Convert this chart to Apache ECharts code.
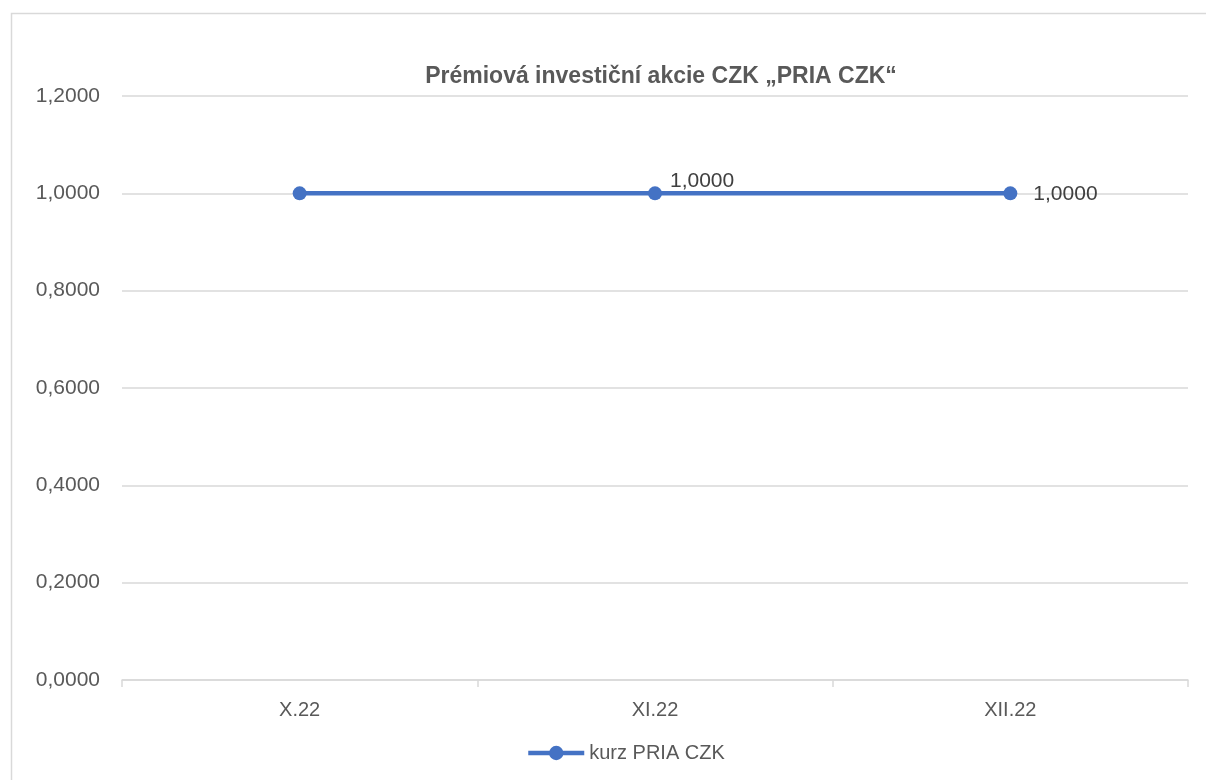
<!DOCTYPE html>
<html>
<head>
<meta charset="utf-8">
<script src="https://cdn.jsdelivr.net/npm/echarts@6/dist/echarts.min.js"></script>
<style>
html,body{margin:0;padding:0;background:#fff;}
#chart{width:1206px;height:780px;}
</style>
</head>
<body>
<div id="chart"></div>
<script>
const titleText = 'Prémiová investiční akcie CZK „PRIA CZK“';
const categories = ['X.22', 'XI.22', 'XII.22'];
const seriesName = 'kurz PRIA CZK';
const values = [1.0, 1.0, 1.0];
const yMin = 0, yMax = 1.2, yStep = 0.2;

const FONT = '"Liberation Sans", Arial, sans-serif';
const fmt = v => v.toFixed(4).replace('.', ',');

const labelCfg = [
  { show: false },
  { show: true, position: 'right', distance: 8, offset: [0, -12] },
  { show: true, position: 'right', distance: 16, offset: [0, 1] }
];

const chart = echarts.init(document.getElementById('chart'), null, { renderer: 'canvas' });
chart.setOption({
  backgroundColor: '#ffffff',
  animation: false,
  graphic: [{
    type: 'rect', left: 9, top: 11, silent: true,
    shape: { width: 1300, height: 900 },
    style: { fill: 'none', stroke: '#d9d9d9', lineWidth: 1.5 }
  }],
  title: {
    text: titleText, left: 656, textAlign: 'center', top: 60,
    textStyle: { fontFamily: FONT, fontSize: 23, fontWeight: 'bold', color: '#595959' }
  },
  grid: { left: 122, right: 18, top: 96, bottom: 100, containLabel: false },
  legend: {
    data: [seriesName], left: 521, top: 738,
    itemWidth: 56, itemHeight: 18, itemGap: 10,
    lineStyle: { width: 4.5, color: '#4472c4' },
    itemStyle: { color: '#4472c4' },
    textStyle: { fontFamily: FONT, fontSize: 20, color: '#595959' }
  },
  xAxis: {
    type: 'category', data: categories, boundaryGap: true,
    axisLine: { lineStyle: { color: '#d9d9d9', width: 1.5 } },
    axisTick: { show: true, length: 7, lineStyle: { color: '#d9d9d9', width: 1.5 } },
    axisLabel: { margin: 20, fontFamily: FONT, fontSize: 20, color: '#595959' }
  },
  yAxis: {
    type: 'value', min: yMin, max: yMax, interval: yStep,
    axisLine: { show: false }, axisTick: { show: false },
    axisLabel: { margin: 22, fontFamily: FONT, fontSize: 21, color: '#595959', formatter: fmt },
    splitLine: { lineStyle: { color: '#d9d9d9', width: 1.5 } }
  },
  series: [{
    name: seriesName, type: 'line',
    data: values.map((v, i) => ({ value: v, label: labelCfg[i] })),
    symbol: 'circle', symbolSize: 14,
    lineStyle: { color: '#4472c4', width: 4.5 },
    itemStyle: { color: '#4472c4' },
    label: { fontFamily: FONT, fontSize: 21, color: '#404040', formatter: p => fmt(p.value) }
  }]
});
</script>
</body>
</html>
